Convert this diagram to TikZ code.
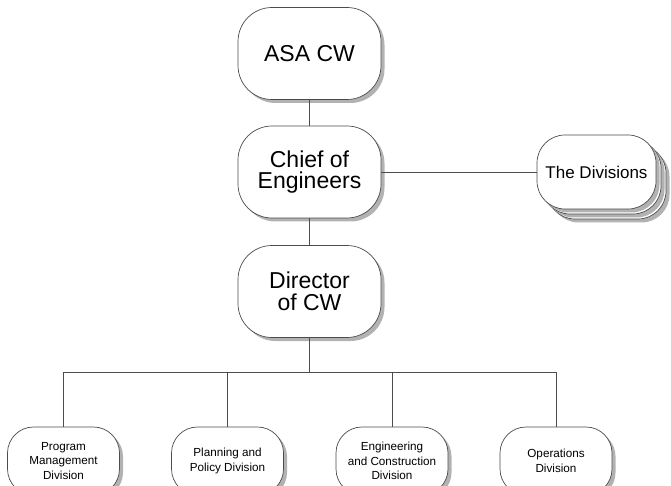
\documentclass[tikz,border=0pt]{standalone}
\usepackage{fontspec}
\setmainfont{Liberation Sans}
\usetikzlibrary{shadows}
\begin{document}
\begin{tikzpicture}[x=1pt,y=1pt,
  box/.style={draw=black!70, line width=0.7pt, fill=white, align=center, inner sep=0pt,
    drop shadow={shadow xshift=3.5pt, shadow yshift=-3.5pt, fill=black!30, opacity=1}},
  bigbox/.style={box, rounded corners=34pt, minimum width=143pt, minimum height=92pt,
    font=\fontsize{23}{21.5}\selectfont},
  smallbox/.style={box, rounded corners=26pt, minimum width=112pt, minimum height=68pt,
    font=\fontsize{11.7}{14.5}\selectfont},
  divbox/.style={box, rounded corners=28pt, minimum width=119pt, minimum height=74pt,
    font=\fontsize{17}{20}\selectfont},
  link/.style={draw=black!70, line width=0.7pt}]
\useasboundingbox (0,0) rectangle (671,-486);

\node[bigbox] (asa) at (309.5,-53.5) {ASA CW};
\node[bigbox] (chief) at (309.5,-172) {Chief of\\Engineers};
\node[bigbox] (dir) at (309.5,-291.5) {Director\\of CW};

\node[divbox] (div3) at (606.5,-182) {};
\node[divbox] (div2) at (601.5,-177) {};
\node[divbox] (div) at (596.5,-172) {The Divisions};

\node[smallbox] (pm) at (63.5,-461) {Program\\Management\\Division};
\node[smallbox] (pp) at (227.5,-461) {Planning and\\Policy Division};
\node[smallbox] (ec) at (392,-461) {Engineering\\and Construction\\Division};
\node[smallbox] (op) at (556,-461) {Operations\\Division};

\coordinate (busL) at (63.5,-372);
\coordinate (busR) at (556,-372);

\draw[link] (asa) -- (chief);
\draw[link] (chief) -- (dir);
\draw[link] (chief.east) -- (div.west);
\draw[link] (dir.south) -- (dir.south |- busL);
\draw[link] (busL) -- (busR);
\draw[link] (pm.north) -- (busL);
\draw[link] (pp.north) -- (pp.north |- busL);
\draw[link] (ec.north) -- (ec.north |- busL);
\draw[link] (op.north) -- (busR);
\end{tikzpicture}
\end{document}
